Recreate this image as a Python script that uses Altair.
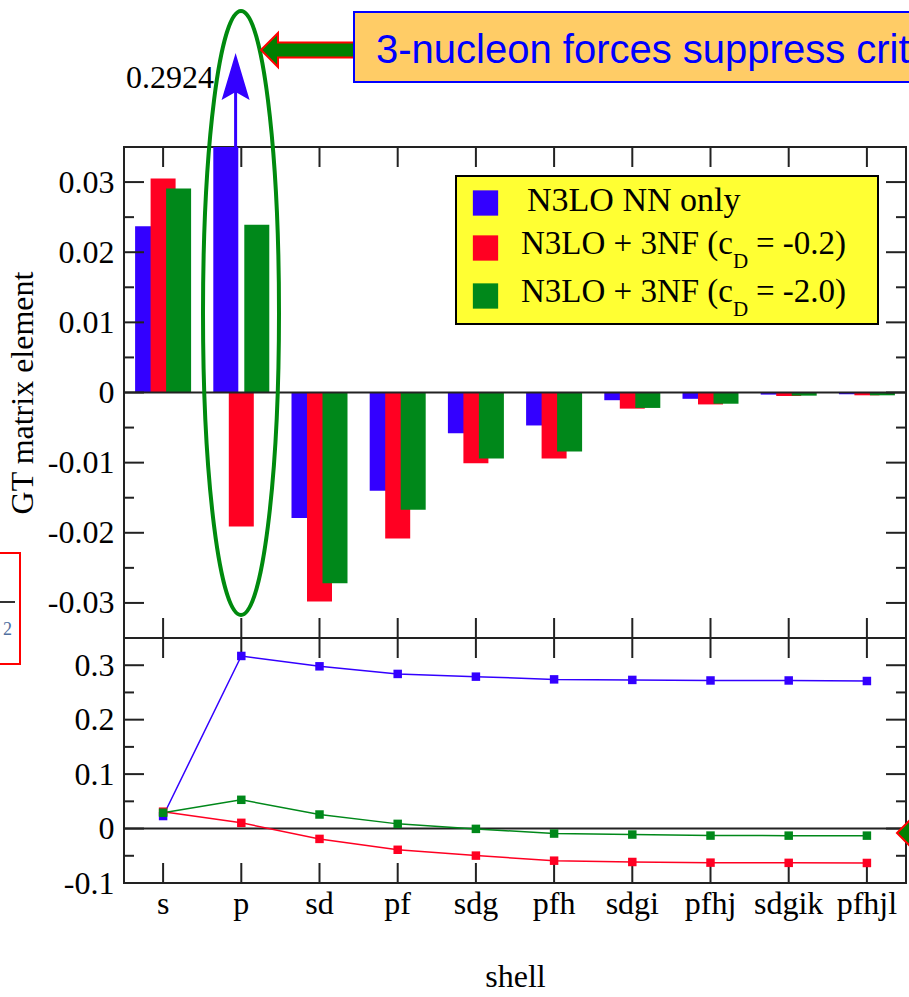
import altair as alt
import pandas as pd

# ---------------- data ----------------
shells = ["s", "p", "sd", "pf", "sdg", "pfh", "sdgi", "pfhj", "sdgik", "pfhjl"]
series = ["N3LO NN only", "N3LO + 3NF (cD= -0.2)", "N3LO + 3NF (cD= -2.0)"]
colors = ["#3300ff", "#ff0022", "#00881a"]

# GT matrix element per shell (top panel bars)
gt_nn = [0.0237, 0.2924, -0.0179, -0.0140, -0.0058, -0.0047, -0.0011, -0.0009, -0.0003, -0.00025]
gt_cd02 = [0.0305, -0.0191, -0.0298, -0.0208, -0.0101, -0.0094, -0.0023, -0.0017, -0.0005, -0.0004]
gt_cd20 = [0.0291, 0.0239, -0.0272, -0.0167, -0.0094, -0.0084, -0.0022, -0.0016, -0.00045, -0.0004]

# running totals (bottom panel)
sum_nn = [0.023, 0.317, 0.298, 0.284, 0.279, 0.274, 0.273, 0.272, 0.272, 0.271]
sum_cd02 = [0.031, 0.0105, -0.019, -0.039, -0.0497, -0.059, -0.0614, -0.0626, -0.063, -0.0632]
sum_cd20 = [0.029, 0.0528, 0.0258, 0.0086, -0.0006, -0.0092, -0.011, -0.0129, -0.013, -0.013]

top_major = [-0.03, -0.02, -0.01, 0, 0.01, 0.02, 0.03]
top_minor = [-0.025, -0.015, -0.005, 0.005, 0.015, 0.025]
bot_major = [-0.1, 0, 0.1, 0.2, 0.3]
bot_minor = [-0.05, 0.05, 0.15, 0.25]

# ---------------- tables ----------------
bars_df = pd.DataFrame({
    "shell": shells * 3,
    "series": [s for s in series for _ in shells],
    "gt": gt_nn + gt_cd02 + gt_cd20,
})
cum_df = pd.DataFrame({
    "shell": shells * 3,
    "idx": list(range(len(shells))) * 3,
    "series": [s for s in series for _ in shells],
    "sum": sum_nn + sum_cd02 + sum_cd20,
})
shell_df = pd.DataFrame({"shell": shells})
one = pd.DataFrame({"a": [0]})

W, H = 782, 736
HT = 491  # top panel height
FRAME = "#222222"
SERIF = "Liberation Serif"

xs = alt.Scale(type="band", domain=shells, paddingInner=0, paddingOuter=0)
ytop = alt.Scale(domain=[-0.035, 0.035], range=[HT, 0], clamp=True, nice=False, zero=False)
ybot = alt.Scale(domain=[-0.1, 0.35], range=[H, HT], nice=False, zero=False)
cscale = alt.Scale(domain=series, range=colors)

x_axis = alt.Axis(title="shell", orient="bottom", labelAngle=0, ticks=False, domain=False,
                  grid=False, labelPadding=5, titlePadding=42, labelFont=SERIF,
                  labelFontSize=32, titleFont=SERIF, titleFontSize=32,
                  titleFontWeight="normal", labelColor="black", titleColor="black")


def xenc(center=False):
    # every layer carries the same x axis so that the shared axis merges cleanly
    if center:
        return alt.X("shell:N", sort=shells, scale=xs, axis=x_axis, bandPosition=0.5)
    return alt.X("shell:N", sort=shells, scale=xs, axis=x_axis)


top_axis = alt.Axis(orient="left", values=top_major, labelExpr="toString(datum.value)",
                    ticks=False, domain=False, grid=False, labelPadding=10,
                    labelOverlap=False, title="GT matrix element", titlePadding=8,
                    labelFont=SERIF, labelFontSize=32, titleFont=SERIF, titleFontSize=32,
                    titleFontWeight="normal", labelColor="black", titleColor="black")
bot_axis = alt.Axis(orient="left", values=bot_major, labelExpr="toString(datum.value)",
                    ticks=False, domain=False, grid=False, labelPadding=10,
                    labelOverlap=False, title="",
                    labelFont=SERIF, labelFontSize=32, labelColor="black")

layers = []

# ---------------- top panel ----------------
offsets = [-15.5, 0, 15.5]
for i, off in enumerate(offsets):
    layers.append(
        alt.Chart(bars_df).transform_filter(alt.datum.series == series[i])
        .mark_bar(width=25, xOffset=off)
        .encode(
            x=xenc(),
            y=alt.Y("gt:Q", scale=ytop, axis=top_axis if i == 0 else None),
            y2=alt.datum(0),
            color=alt.Color("series:N", scale=cscale, legend=None),
        )
    )

# zero line top
layers.append(
    alt.Chart(pd.DataFrame({"v": [0]})).mark_rule(color=FRAME, strokeWidth=2)
    .encode(y=alt.Y("v:Q", scale=ytop, axis=None), x=alt.value(0), x2=alt.value(W))
)


def yticks(vals, scale, length):
    df = pd.DataFrame({"v": vals})
    left = alt.Chart(df).mark_rule(color=FRAME, strokeWidth=2).encode(
        y=alt.Y("v:Q", scale=scale, axis=None), x=alt.value(0), x2=alt.value(length))
    right = alt.Chart(df).mark_rule(color=FRAME, strokeWidth=2).encode(
        y=alt.Y("v:Q", scale=scale, axis=None), x=alt.value(W - length), x2=alt.value(W))
    return [left, right]


layers += yticks(top_major, ytop, 20)
layers += yticks(top_minor, ytop, 10)

# x ticks (inward) on all panel edges
for y0, y1 in [(0, 20), (HT - 20, HT), (HT, HT + 20), (H - 20, H)]:
    layers.append(
        alt.Chart(shell_df).mark_rule(color=FRAME, strokeWidth=2)
        .encode(x=xenc(center=True), y=alt.value(y0), y2=alt.value(y1))
    )

# panel separator
layers.append(
    alt.Chart(one).mark_rule(color=FRAME, strokeWidth=2)
    .encode(y=alt.value(HT), x=alt.value(0), x2=alt.value(W))
)

# legend box (drawn)
layers.append(
    alt.Chart(one).mark_rect(fill="#ffff33", stroke="black", strokeWidth=2)
    .encode(x=alt.value(332), x2=alt.value(754), y=alt.value(29), y2=alt.value(177))
)
leg_y = [56, 101, 149]
base_y = [64, 107, 155]
for i in range(3):
    layers.append(
        alt.Chart(one).mark_point(shape="square", filled=True, size=640, opacity=1, color=colors[i])
        .encode(x=alt.value(361.5), y=alt.value(leg_y[i]))
    )
layers.append(
    alt.Chart(one).mark_text(text="N3LO NN only", align="left", baseline="alphabetic",
                             font=SERIF, fontSize=34, color="black")
    .encode(x=alt.value(403), y=alt.value(base_y[0]))
)
for i, val in [(1, "= -0.2)"), (2, "= -2.0)")]:
    layers.append(
        alt.Chart(one).mark_text(text="N3LO + 3NF (c", align="right", baseline="alphabetic",
                                 font=SERIF, fontSize=33, color="black")
        .encode(x=alt.value(609), y=alt.value(base_y[i]))
    )
    layers.append(
        alt.Chart(one).mark_text(text="D", align="left", baseline="alphabetic",
                                 font=SERIF, fontSize=21, color="black")
        .encode(x=alt.value(609), y=alt.value(base_y[i] + 14))
    )
    layers.append(
        alt.Chart(one).mark_text(text=val, align="left", baseline="alphabetic",
                                 font=SERIF, fontSize=33, color="black")
        .encode(x=alt.value(632), y=alt.value(base_y[i]))
    )

# ---------------- bottom panel ----------------
layers += [
    alt.Chart(pd.DataFrame({"v": [0]})).mark_rule(color=FRAME, strokeWidth=2)
    .encode(y=alt.Y("v:Q", scale=ybot, axis=None), x=alt.value(0), x2=alt.value(W)),
    alt.Chart(cum_df).mark_line(strokeWidth=1.5)
    .encode(
        x=xenc(),
        y=alt.Y("sum:Q", scale=ybot, axis=bot_axis),
        color=alt.Color("series:N", scale=cscale, legend=None),
        order=alt.Order("idx:Q"),
    ),
    alt.Chart(cum_df).mark_point(shape="square", filled=True, size=72, opacity=1)
    .encode(
        x=xenc(),
        y=alt.Y("sum:Q", scale=ybot, axis=None),
        color=alt.Color("series:N", scale=cscale, legend=None),
    ),
]
layers += yticks(bot_major, ybot, 20)
layers += yticks(bot_minor, ybot, 10)

# ---------------- annotations ----------------
GREEN = "#008a0e"
ellipse = ("M -38 0 C -38 -166.8 -20.99 -302 0 -302 C 20.99 -302 38 -166.8 38 0 "
           "C 38 166.8 20.99 302 0 302 C -20.99 302 -38 166.8 -38 0 Z")
arrow_left = "M 0 0 L 17 -17 L 17 -7.5 L 95 -7.5 L 95 7.5 L 17 7.5 L 17 17 Z"
arrow_head = "M 0 0 L -14 47 L 0 39 L 14 47 Z"

layers += [
    alt.Chart(one).mark_rule(color=colors[0], strokeWidth=3)
    .encode(x=alt.value(111.6), y=alt.value(0), y2=alt.value(-80)),
    alt.Chart(one).mark_point(shape=arrow_head, size=4, filled=True, opacity=1, color=colors[0])
    .encode(x=alt.value(111.6), y=alt.value(-94)),
    alt.Chart(one).mark_text(text="0.2924", align="right", baseline="alphabetic",
                             font=SERIF, fontSize=32, color="black")
    .encode(x=alt.value(90), y=alt.value(-59)),
    alt.Chart(one).mark_point(shape=ellipse, size=4, filled=False, opacity=1,
                              color=GREEN, strokeWidth=4)
    .encode(x=alt.value(117), y=alt.value(166)),
    alt.Chart(one).mark_point(shape=arrow_left, size=4, filled=True, opacity=1,
                              fill="#008000", stroke="#ff0000", strokeWidth=2)
    .encode(x=alt.value(137), y=alt.value(-97)),
    alt.Chart(one).mark_rect(fill="#ffcc66", stroke="#0000ff", strokeWidth=2)
    .encode(x=alt.value(230), x2=alt.value(800), y=alt.value(-135), y2=alt.value(-65)),
    alt.Chart(one).mark_text(text="3-nucleon forces suppress critical", align="left",
                             baseline="alphabetic", font="Liberation Sans", fontSize=40,
                             color="#0000ff")
    .encode(x=alt.value(252), y=alt.value(-84)),
    alt.Chart(one).mark_rect(fill="transparent", stroke="#ff0000", strokeWidth=2)
    .encode(x=alt.value(-200), x2=alt.value(-104), y=alt.value(406), y2=alt.value(517)),
    alt.Chart(one).mark_rule(color="#333333", strokeWidth=2)
    .encode(x=alt.value(-124), x2=alt.value(-109), y=alt.value(455)),
    alt.Chart(one).mark_text(text="2", align="left", baseline="alphabetic", font=SERIF,
                             fontSize=18, color="#4f6f9f")
    .encode(x=alt.value(-121), y=alt.value(488)),
    alt.Chart(one).mark_point(shape=arrow_left, size=4, filled=True, opacity=1,
                              fill="#008000", stroke="#ff0000", strokeWidth=2)
    .encode(x=alt.value(773), y=alt.value(686)),
]

chart = (
    alt.layer(*layers)
    .resolve_scale(y="independent")
    .resolve_axis(y="independent")
    .properties(
        width=W, height=H,
        autosize=alt.AutoSizeParams(type="none"),
        padding={"left": 124, "top": 147, "right": 3, "bottom": 114},
        background="white",
    )
    .configure_view(stroke=FRAME, strokeWidth=2)
)

chart.save("out.html", embed_options={"renderer": "svg", "actions": False})
